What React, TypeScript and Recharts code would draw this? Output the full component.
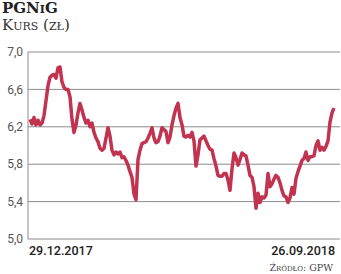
import React from 'react';
import { LineChart, Line, XAxis, YAxis, CartesianGrid } from 'recharts';

const prices: number[] = [
  6.28, 6.23, 6.30, 6.22, 6.27, 6.22, 6.24, 6.32, 6.48, 6.64,
  6.73, 6.75, 6.76, 6.72, 6.83, 6.84, 6.68, 6.62, 6.60, 6.60,
  6.52, 6.28, 6.14, 6.22, 6.35, 6.45, 6.38, 6.30, 6.24, 6.27,
  6.20, 6.24, 6.14, 6.08, 6.04, 5.97, 5.95, 5.97, 6.08, 6.19,
  6.10, 5.95, 5.90, 5.93, 5.91, 5.93, 5.87, 5.88, 5.84, 5.79,
  5.72, 5.66, 5.48, 5.42, 5.85, 5.95, 6.02, 6.03, 6.04, 6.08,
  6.13, 6.19, 6.08, 6.03, 6.04, 6.10, 6.19, 6.17, 6.15, 6.03,
  6.09, 6.22, 6.32, 6.40, 6.45, 6.30, 6.22, 6.10, 6.09, 6.11,
  6.09, 6.14, 6.05, 5.78, 5.90, 6.06, 6.08, 6.10, 6.05, 6.00,
  5.96, 5.95, 5.86, 5.78, 5.68, 5.67, 5.67, 5.70, 5.70, 5.63,
  5.52, 5.75, 5.92, 5.87, 5.79, 5.85, 5.92, 5.90, 5.89, 5.79,
  5.68, 5.66, 5.56, 5.33, 5.49, 5.39, 5.45, 5.44, 5.47, 5.70,
  5.56, 5.59, 5.64, 5.68, 5.66, 5.60, 5.52, 5.46, 5.45, 5.39,
  5.44, 5.55, 5.48, 5.65, 5.72, 5.78, 5.84, 5.86, 5.93, 5.84,
  5.88, 5.88, 5.89, 6.00, 6.05, 5.95, 5.98, 5.95, 5.99, 6.05,
  6.25, 6.35, 6.40,
];

const xLabels: string[] = ['29.12.2017', '26.09.2018'];
const yTicks: number[] = [5.0, 5.4, 5.8, 6.2, 6.6, 7.0];

const data = prices.map((v, i) => ({ idx: i, value: v }));
const lastIdx = prices.length - 1;

const XTick = (props: any) => {
  const { x, y, payload } = props;
  const first = payload.value === 0;
  return (
    <text
      x={first ? x - 1 : x + 1}
      y={y + 8}
      textAnchor={first ? 'start' : 'end'}
      fontFamily="Roboto"
      fontWeight={500}
      fontSize={12.5}
      fill="#222"
    >
      {first ? xLabels[0] : xLabels[1]}
    </text>
  );
};

export default function App() {
  return (
    <div style={{ position: 'absolute', left: 0, top: 0, width: 341, height: 274, background: '#fff', overflow: 'hidden' }}>
      <div style={{ position: 'absolute', left: 2, top: 1, lineHeight: '15px', fontFamily: '"DejaVu Serif"', fontWeight: 700, fontSize: 15, fontVariant: 'small-caps', color: '#222', whiteSpace: 'nowrap' }}>
        PGNiG
      </div>
      <div style={{ position: 'absolute', left: 2, top: 17, lineHeight: '16px', fontFamily: '"DejaVu Serif"', fontSize: 15, fontVariant: 'small-caps', color: '#333', whiteSpace: 'nowrap' }}>
        Kurs (zł)
      </div>
      <div style={{ position: 'absolute', right: 8, top: 262, lineHeight: '12px', fontFamily: '"DejaVu Serif"', fontSize: 9.5, fontVariant: 'small-caps', color: '#444', whiteSpace: 'nowrap' }}>
        Źródło: GPW
      </div>
      <div style={{ position: 'absolute', left: 0, top: 0 }}>
        <LineChart width={341} height={274} data={data} margin={{ top: 52, right: 1, bottom: 5, left: 0 }}>
          <CartesianGrid vertical={false} stroke="#8c8c8c" strokeWidth={1} />
          <XAxis
            dataKey="idx"
            type="number"
            domain={[0, lastIdx]}
            ticks={[0, lastIdx]}
            padding={{ left: 2, right: 6 }}
            height={30}
            axisLine={false}
            tickLine={false}
            tick={<XTick />}
            interval={0}
          />
          <YAxis
            domain={[5, 7]}
            ticks={yTicks}
            width={28}
            axisLine={{ stroke: '#8c8c8c' }}
            tickLine={false}
            tickSize={0}
            tickMargin={5}
            interval={0}
            tickFormatter={(v: number) => v.toFixed(1).replace('.', ',')}
            tick={{ fontFamily: 'Roboto', fontSize: 12, fill: '#555' }}
          />
          <Line
            type="linear"
            dataKey="value"
            stroke="#c23350"
            strokeWidth={3.5}
            dot={false}
            strokeLinejoin="round"
            isAnimationActive={false}
          />
        </LineChart>
      </div>
    </div>
  );
}
